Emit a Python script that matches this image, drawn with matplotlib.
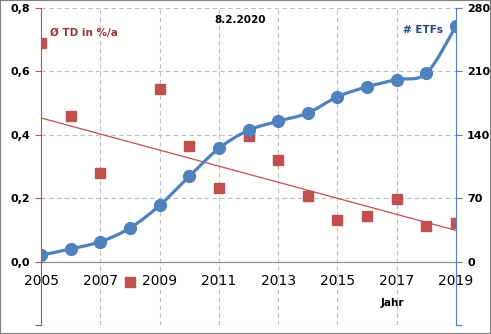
import matplotlib.pyplot as plt
import numpy as np
from matplotlib.path import Path
from matplotlib.patches import PathPatch, Rectangle

years = list(range(2005, 2020))
# average tracking difference in %/a (left axis)
td = [0.69, 0.46, 0.28, -0.065, 0.544, 0.364, 0.232, 0.395, 0.32, 0.208,
      0.131, 0.145, 0.198, 0.112, 0.122]
# number of ETFs (right axis)
etfs = [7, 14, 22, 37, 62, 94, 125, 145, 155, 164, 182, 193, 201, 208, 260]

left_ticks = [-0.2, 0.0, 0.2, 0.4, 0.6, 0.8]
left_labels = ["", "0,0", "0,2", "0,4", "0,6", "0,8"]
right_ticks = [-70, 0, 70, 140, 210, 280]
right_labels = ["", "0", "70", "140", "210", "280"]
x_ticks = list(range(2005, 2020, 2))

red = "#C0504D"
blue = "#4F81BD"
grid_col = "#BFBFBF"

plt.rcParams['font.family'] = ['DejaVu Sans']

fig = plt.figure(figsize=(4.91, 3.34), dpi=100)
ax = fig.add_axes([41 / 491, 9 / 334, 415 / 491, 317 / 334])
ax2 = ax.twinx()

# left axis: TD squares + linear trend
ax.set_xlim(2005, 2019)
ax.set_ylim(-0.2, 0.8)
ax.plot(years, td, ls="none", marker="s", ms=6.5, color=red, zorder=3)
k, d = np.polyfit(years, td, 1)
xs = np.array([2005, 2019])
ax.plot(xs, k * xs + d, color=red, lw=0.9, zorder=2)

ax.set_yticks(left_ticks)
ax.set_yticklabels(left_labels, fontsize=8, fontweight="bold")
ax.set_xticks(x_ticks)
ax.set_xticklabels([str(x) for x in x_ticks], fontsize=8, fontweight="bold")
ax.tick_params(axis="x", length=0, pad=9)
ax.tick_params(axis="y", length=4, color=red, pad=4)
ax.grid(True, color=grid_col, ls=(0, (4, 3)), lw=0.8)
ax.set_axisbelow(True)
ax.axhline(-0.2, color=grid_col, ls=(0, (4, 3)), lw=0.8, zorder=0)

ax.spines["left"].set_color(red)
ax.spines["bottom"].set_position(("data", 0))
ax.spines["bottom"].set_color("#868686")
ax.spines["top"].set_visible(False)
ax.spines["right"].set_visible(False)

# right axis: smoothed ETF count line
ax2.set_ylim(-70, 280)
ax2.set_yticks(right_ticks)
ax2.set_yticklabels(right_labels, fontsize=8, fontweight="bold")
ax2.tick_params(axis="y", length=4, color=blue, pad=4)
for s in ["left", "top", "bottom"]:
    ax2.spines[s].set_visible(False)
ax2.spines["right"].set_color(blue)

pts = np.column_stack([years, etfs]).astype(float)
verts = [pts[0]]
codes = [Path.MOVETO]
n = len(pts)
for i in range(n - 1):
    p0 = pts[max(i - 1, 0)]
    p1 = pts[i]
    p2 = pts[i + 1]
    p3 = pts[min(i + 2, n - 1)]
    verts += [p1 + (p2 - p0) / 6, p2 - (p3 - p1) / 6, p2]
    codes += [Path.CURVE4] * 3
ax2.add_patch(PathPatch(Path(verts, codes), fill=False, ec=blue, lw=2.3,
                        zorder=2, capstyle="round"))
ax2.plot(years, etfs, ls="none", marker="o", ms=8.5, color=blue, zorder=3)

# annotations
fig.text(50 / 491, 1 - 33 / 334, "Ø TD in %/a", color="#953735", fontsize=7.5,
         fontweight="bold", va="center", ha="left")
fig.text(443 / 491, 1 - 30 / 334, "# ETFs", color="#1F497D", fontsize=7.5,
         fontweight="bold", va="center", ha="right")
fig.text(240 / 491, 1 - 20 / 334, "8.2.2020", color="black", fontsize=7.5,
         fontweight="bold", va="center", ha="center")
fig.text(392 / 491, 1 - 303 / 334, "Jahr", color="black", fontsize=7.5,
         fontweight="bold", va="center", ha="center")

fig.patches.append(Rectangle((0, 0), 1, 1, transform=fig.transFigure,
                             fill=False, ec="#808080", lw=1.5))

fig.savefig("out.png", dpi=100)
